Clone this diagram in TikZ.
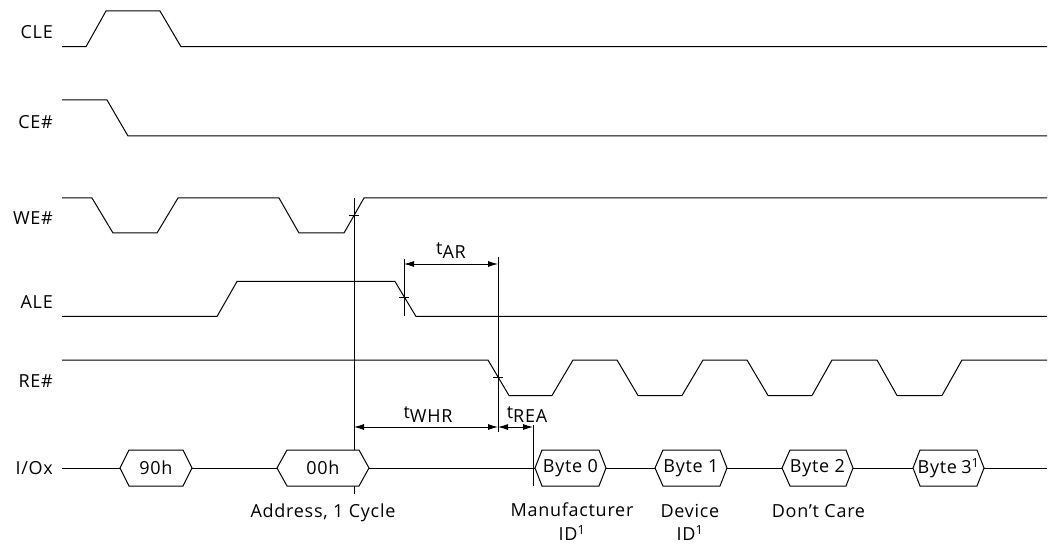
\documentclass[tikz,border=0pt]{standalone}
\usepackage{fontspec}
\setmainfont{Open Sans}[LetterSpace=4]
\usetikzlibrary{arrows.meta}
\newcommand\tmsub[1]{t\raisebox{-4pt}{#1}}
\newcommand\busbox[6]{%
  \draw[bus] (#2,468) -- (#3,450) -- (#4,450) -- (#5,468) -- (#4,486) -- (#3,486) -- cycle;
  \node[txt] (#1) at ({(#2+#5)/2},468) {#6};}
\begin{document}
\begin{tikzpicture}[x=1pt,y=-1pt,
  wave/.style={line width=1pt,line join=miter},
  lbl/.style={anchor=east,inner sep=0pt,font=\fontsize{18}{23.3}\selectfont},
  txt/.style={inner sep=0pt,font=\fontsize{18}{23.3}\selectfont},
  bus/.style={line width=1pt,fill=white},
  dim/.style={line width=0.9pt,{Latex[length=10pt,width=6pt]}-{Latex[length=10pt,width=6pt]}},
  refline/.style={line width=0.9pt},
  tickmark/.style={line width=0.9pt}]
\useasboundingbox (0,0) rectangle (1052,545);

% CLE
\node[lbl] (lcle) at (53,32) {CLE};
\draw[wave] (62,46.7) -- (86,46.7) -- (106,11) -- (160,11) -- (181,46.7) -- (1047,46.7);
% CE#
\node[lbl] (lce) at (53,122) {CE\#};
\draw[wave] (62,100) -- (107,100) -- (128,136) -- (1047,136);
% WE#
\node[lbl] (lwe) at (53,218) {WE\#};
\draw[wave] (62,198) -- (92,198) -- (113,233) -- (157,233) -- (178,198) -- (279,198) -- (299,233) -- (344,233) -- (364,198) -- (1047,198);
% ALE
\node[lbl] (lale) at (53,302) {ALE};
\draw[wave] (62,316.5) -- (217,316.5) -- (237,281.5) -- (395,281.5) -- (416,316.5) -- (1047,316.5);
% RE#
\node[lbl] (lre) at (53,381) {RE\#};
\draw[wave] (62,360) -- (488,360) -- (509,395.5) -- (552,395.5) -- (573,360) -- (617,360) -- (638,395.5) -- (682,395.5) -- (703,360) -- (747,360) -- (768,395.5) -- (812,395.5) -- (832,360) -- (877,360) -- (897,395.5) -- (942,395.5) -- (962,360) -- (1047,360);
% I/Ox
\node[lbl] (lio) at (53,468) {I/Ox};
\draw[wave] (62,468) -- (1047,468);

% reference lines
\coordinate (weA) at (354,198);
\coordinate (weB) at (354,494);
\coordinate (aleA) at (404,259);
\coordinate (aleB) at (404,316.5);
\coordinate (reA) at (498,257);
\coordinate (reB) at (498,432);
\coordinate (ioA) at (533,425);
\coordinate (ioB) at (533,486);
\draw[refline] (weA) -- (weB);
\draw[refline] (aleA) -- (aleB);
\draw[refline] (reA) -- (reB);
\draw[refline] (ioA) -- (ioB);

% crossing ticks
\draw[tickmark] (349,215.5) -- (359,215.5);
\draw[tickmark] (399,297) -- (409,297);
\draw[tickmark] (493,377) -- (503,377);

% dimension arrows
\coordinate (tarL) at (404,264);
\coordinate (tarR) at (498,264);
\coordinate (twhrL) at (354,427);
\coordinate (twhrR) at (498,427);
\coordinate (treaR) at (533,427);
\draw[dim] (tarL) -- (tarR);
\draw[dim] (twhrL) -- (twhrR);
\draw[dim] (twhrR) -- (treaR);
\node[txt,anchor=base] (tar) at (451,255) {\tmsub{AR}};
\node[txt,anchor=base] (twhr) at (428,418) {\tmsub{WHR}};
\node[txt,anchor=base] (trea) at (527,418) {\tmsub{REA}};

% bus values
\busbox{b90}{120}{129}{183}{192}{90h}
\busbox{b00}{277}{287}{359}{369}{00h}
\busbox{byte0}{535}{542}{599}{606}{Byte 0}
\busbox{byte1}{655}{663}{720}{727}{Byte 1}
\busbox{byte2}{782}{790}{846}{853}{Byte 2}
\busbox{byte3}{913}{920}{977}{984}{Byte\hspace{-1pt} 3\textsuperscript{1}}

% captions
\node[txt,anchor=base] (caddr) at (323,517) {Address, 1 Cycle};
\node[txt,align=center,anchor=north] (cman) at (572,503) {Manufacturer\\ID\textsuperscript{1}};
\node[txt,align=center,anchor=north] (cdev) at (690,504) {Device\\ID\textsuperscript{1}};
\node[txt,anchor=base] (cdc) at (818.5,517) {Don't Care};
\end{tikzpicture}
\end{document}
